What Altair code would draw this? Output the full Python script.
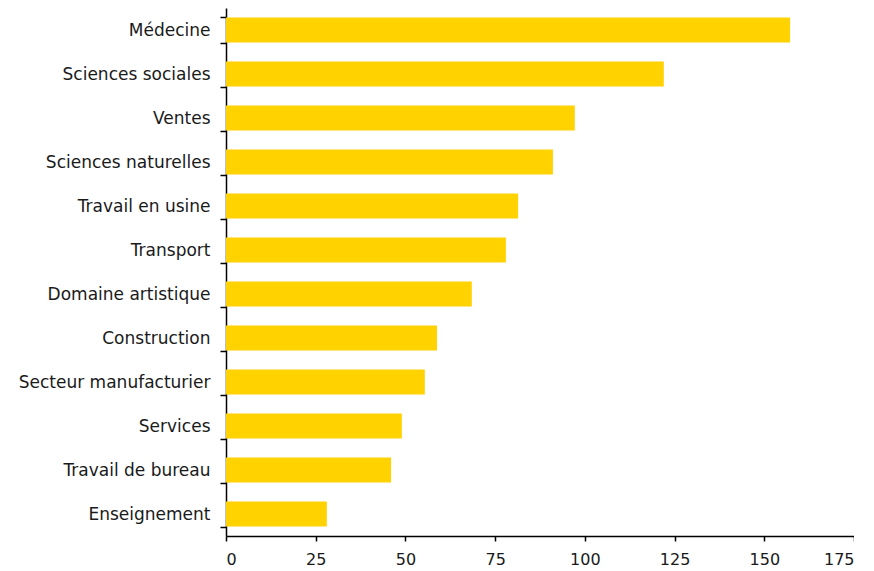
import altair as alt
import pandas as pd

categories = ["Médecine", "Sciences sociales", "Ventes", "Sciences naturelles",
              "Travail en usine", "Transport", "Domaine artistique", "Construction",
              "Secteur manufacturier", "Services", "Travail de bureau", "Enseignement"]
values = [157.2, 122.0, 97.2, 91.1, 81.4, 78.0, 68.5, 58.8, 55.4, 49.0, 46.0, 28.1]

df = pd.DataFrame({"cat": categories, "val": values})

chart = alt.Chart(df).mark_bar(color="#FFD200").encode(
    x=alt.X("val:Q", scale=alt.Scale(domain=[0, 175], nice=False),
            axis=alt.Axis(values=[0, 25, 50, 75, 100, 125, 150, 175], title=None,
                          grid=False, domainColor="#000", tickColor="#000",
                          tickSize=5, labelFontSize=16, labelFont="DejaVu Sans",
                          labelColor="#1a1a1a", labelPadding=10)),
    y=alt.Y("cat:N", sort=categories,
            scale=alt.Scale(paddingInner=0.43, paddingOuter=0.215),
            axis=alt.Axis(title=None, tickBand="extent", grid=False, domainColor="#000",
                          tickColor="#000", tickSize=6, labelFontSize=17, labelLimit=400,
                          labelFont="DejaVu Sans", labelColor="#1a1a1a", labelPadding=10)),
).properties(
    width=628, height=528,
    autosize=alt.AutoSizeParams(type="none"),
    padding={"left": 218, "top": 0, "right": 0, "bottom": 35},
).configure_view(stroke=None).configure_axis(domainWidth=1.5, tickWidth=1.5)

chart.save("out.html", embed_options={"renderer": "svg", "actions": False})
